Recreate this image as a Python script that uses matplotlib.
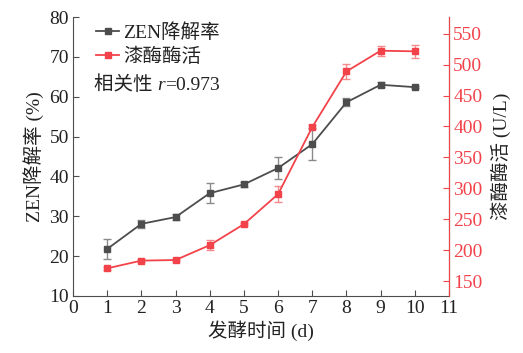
import matplotlib
matplotlib.use("Agg")
import matplotlib.pyplot as plt
from matplotlib.lines import Line2D

plt.rcParams["font.family"] = ["Liberation Serif", "Noto Sans CJK SC"]

# fermentation time (d)
days = [1, 2, 3, 4, 5, 6, 7, 8, 9, 10]
# ZEN degradation rate (%)
zen_rate = [21.8, 28.1, 29.8, 35.8, 38.0, 42.1, 48.1, 58.6, 63.0, 62.4]
zen_err = [2.6, 1.0, 0.7, 2.5, 0.6, 2.7, 4.0, 1.0, 0.6, 0.3]
# laccase activity (U/L)
laccase = [170.5, 183, 184, 208, 242, 290.5, 399, 489, 522.5, 521.5]
laccase_err = [2, 2, 2, 8.5, 2, 13, 3, 12.4, 8, 11]

x_ticks = list(range(0, 12))
left_ticks = [10, 20, 30, 40, 50, 60, 70, 80]
right_ticks = [150, 200, 250, 300, 350, 400, 450, 500, 550]

gray = "#4d4d4d"
red = "#f2434b"
txt = "#222222"

fig = plt.figure(figsize=(5.23, 3.53), dpi=100)
ax = fig.add_axes([0.1396, 0.1615, 0.7189, 0.7903])
ax2 = ax.twinx()

ax.errorbar(days, zen_rate, yerr=zen_err, color=gray, lw=1.3, marker="s", ms=5,
            ecolor="#8a8a8a", elinewidth=1.0, capsize=3, capthick=1.0, zorder=3)
ax2.errorbar(days, laccase, yerr=laccase_err, color=red, lw=1.3, marker="s", ms=5,
             ecolor="#f58a8e", elinewidth=1.0, capsize=3, capthick=1.0, zorder=3)

ax.set_xlim(0, 11)
ax.set_ylim(10, 80)
ax2.set_ylim(125.8, 577)
ax.set_xticks(x_ticks)
ax.set_yticks(left_ticks)
ax2.set_yticks(right_ticks)

for a in (ax, ax2):
    a.spines["top"].set_visible(False)
ax.spines["left"].set_color(gray)
ax.spines["bottom"].set_color(gray)
ax2.spines["left"].set_visible(False)
ax2.spines["bottom"].set_visible(False)
ax2.spines["right"].set_color(red)

ax.tick_params(axis="both", direction="in", length=4, color=gray, labelsize=14,
               labelcolor=txt, pad=3)
ax2.tick_params(axis="y", direction="in", length=4, color=red, labelsize=14,
                labelcolor=red, pad=3)

ax.set_xlabel("发酵时间 (d)", fontsize=14, color=txt, labelpad=2)
ax.set_ylabel("ZEN降解率 (%)", fontsize=14, color=txt, labelpad=4)
ax2.set_ylabel("漆酶酶活 (U/L)", fontsize=14, color=txt, labelpad=6)

handles = [
    Line2D([], [], color=gray, lw=1.3, marker="s", ms=4),
    Line2D([], [], color=red, lw=1.3, marker="s", ms=4),
]
ax.legend(handles, ["ZEN降解率", "漆酶酶活"], loc="upper left",
          bbox_to_anchor=(0.015, 1.04), frameon=False, fontsize=14,
          handlelength=1.2, handletextpad=0.2, labelspacing=0.3,
          labelcolor=txt)

# correlation note: plain CJK text, italic r, then the value
t1 = ax.text(0.055, 0.74, "相关性 ", transform=ax.transAxes, fontsize=14,
             color=txt, va="baseline", ha="left")
t2 = ax.annotate("r", xy=(1, 0), xycoords=t1, fontsize=14, color=txt,
                 style="italic", va="bottom", ha="left")
ax.annotate("=0.973", xy=(1, 0), xycoords=t2, fontsize=14, color=txt,
            va="bottom", ha="left")

fig.savefig("out.png", dpi=100)
